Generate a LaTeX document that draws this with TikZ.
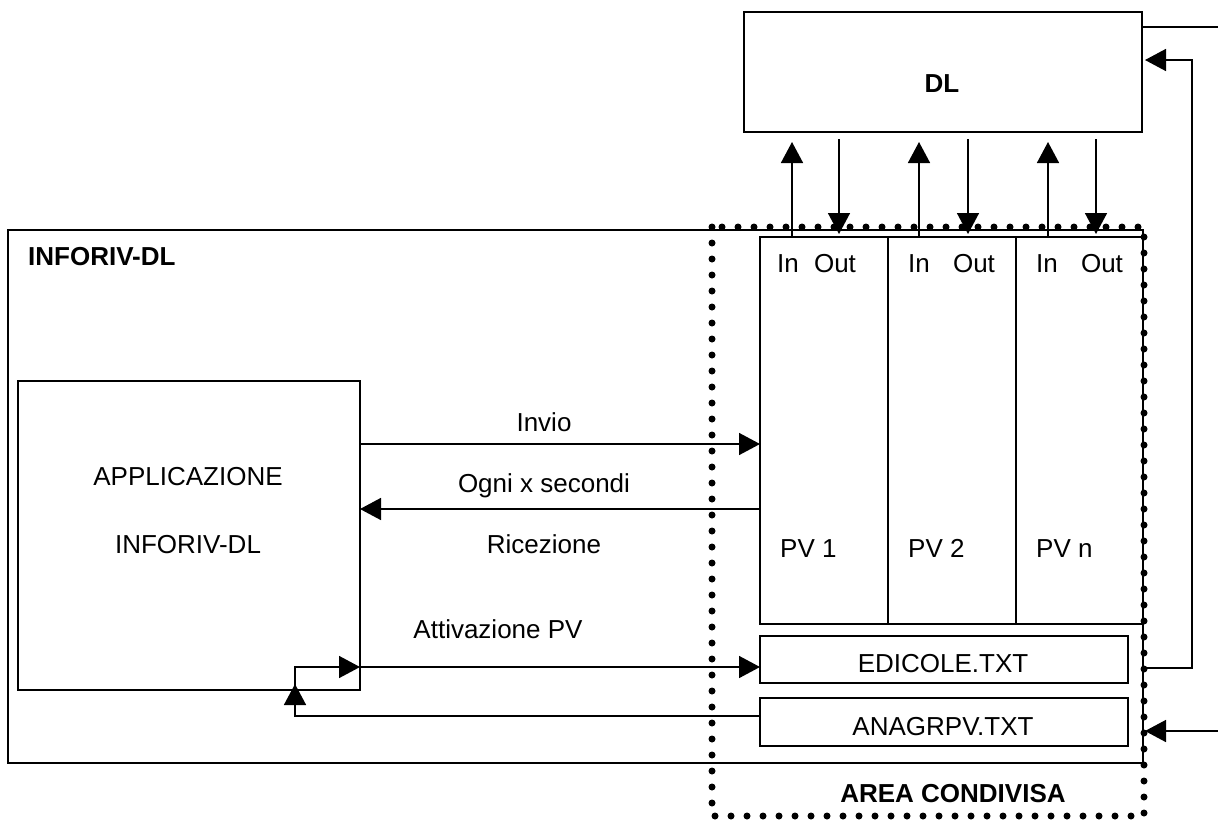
\documentclass[tikz,border=0pt]{standalone}
\usepackage{fontspec}
\setmainfont{Liberation Sans}
\usetikzlibrary{arrows.meta,calc}
\begin{document}
\begin{tikzpicture}[x=1pt,y=-1pt,
  box/.style={draw, line width=1.6pt, inner sep=0pt, outer sep=0pt, anchor=north west},
  lbl/.style={inner sep=0pt, anchor=base, font=\fontsize{26pt}{30pt}\selectfont},
  blbl/.style={lbl, font=\fontsize{26pt}{30pt}\selectfont\bfseries},
  ln/.style={line width=1.6pt},
  arr/.style={line width=1.6pt, -{Triangle[length=21pt,width=22pt]}},
  dots/.style={line width=7pt, line cap=round, dash pattern=on 0pt off 16pt}]
\useasboundingbox (0,0) rectangle (1218,820);
% boxes
\node[box, minimum width=398pt, minimum height=120pt] (dl) at (744,12) {};
\node[box, minimum width=1135pt, minimum height=533pt] (outer) at (8,230) {};
\node[box, minimum width=342pt, minimum height=309pt] (app) at (18,381) {};
\node[box, minimum width=128pt, minimum height=387pt] (pv1) at (760,237) {};
\node[box, minimum width=128pt, minimum height=387pt] (pv2) at (888,237) {};
\node[box, minimum width=127pt, minimum height=387pt] (pvn) at (1016,237) {};
\node[box, minimum width=368pt, minimum height=47pt] (edi) at (760,636) {};
\node[box, minimum width=368pt, minimum height=48pt] (ana) at (760,698) {};
% shared area
\draw[dots] (712,227) rectangle (1144,816);
% labels
\node[blbl] (tdl) at (942,92) {DL};
\node[blbl, anchor=base west] (tinf) at (28,265) {INFORIV-DL};
\node[lbl] (in1) at (788,272) {In};
\node[lbl] (out1) at (835,272) {Out};
\node[lbl] (in2) at (919,272) {In};
\node[lbl] (out2) at (974,272) {Out};
\node[lbl] (in3) at (1047,272) {In};
\node[lbl] (out3) at (1102,272) {Out};
\node[lbl, anchor=base west] (tpv1) at (780,557) {PV 1};
\node[lbl, anchor=base west] (tpv2) at (908,557) {PV 2};
\node[lbl, anchor=base west] (tpvn) at (1036,557) {PV n};
\node[lbl] (tinvio) at (544,431) {Invio};
\node[lbl] (togni) at (544,492) {Ogni x secondi};
\node[lbl] (tric) at (544,553) {Ricezione};
\node[lbl] (tatt) at (498,638) {Attivazione PV};
\node[lbl] (tapp) at (188,485) {APPLICAZIONE};
\node[lbl] (tapp2) at (188,553) {INFORIV-DL};
\node[lbl] (tedi) at (943,672) {EDICOLE.TXT};
\node[lbl] (tana) at (943,735) {ANAGRPV.TXT};
\node[blbl] (tarea) at (953,802) {AREA CONDIVISA};
% In / Out connectors
\foreach \p/\x in {pv1/792, pv2/919, pvn/1048}
  \draw[arr] (\p.north -| \x,0) -- ([yshift=-10pt]dl.south -| \x,0);
\foreach \p/\x in {pv1/839, pv2/968, pvn/1096}
  \draw[arr] ([yshift=-7pt]dl.south -| \x,0) -- ([yshift=3pt]\p.north -| \x,0);
% right side connectors
\coordinate (rtop) at (1218,27);
\draw[ln] (dl.east |- rtop) -- (rtop);
\coordinate (r0) at (1143,668);
\draw[arr] (r0) -- (1192,668) -- (1192,60) -- ([xshift=3pt]dl.east |- 0,60);
\coordinate (rin) at (1218,731);
\coordinate (rend) at (1145,731);
\draw[arr] (rin) -- (rend);
% application connectors
\draw[arr] (app.east |- 0,444) -- (pv1.west |- 0,444);
\draw[arr] (pv1.west |- 0,509) -- (app.east |- 0,509);
\draw[arr] (app.south -| 295,0) -- (295,667) -- (app.east |- 0,667);
\draw[arr] (app.east |- 0,667) -- (edi.west |- 0,667);
\draw[arr] (ana.west |- 0,716) -- (295,716) -- ([yshift=6pt]app.south -| 295,0);
\end{tikzpicture}
\end{document}
